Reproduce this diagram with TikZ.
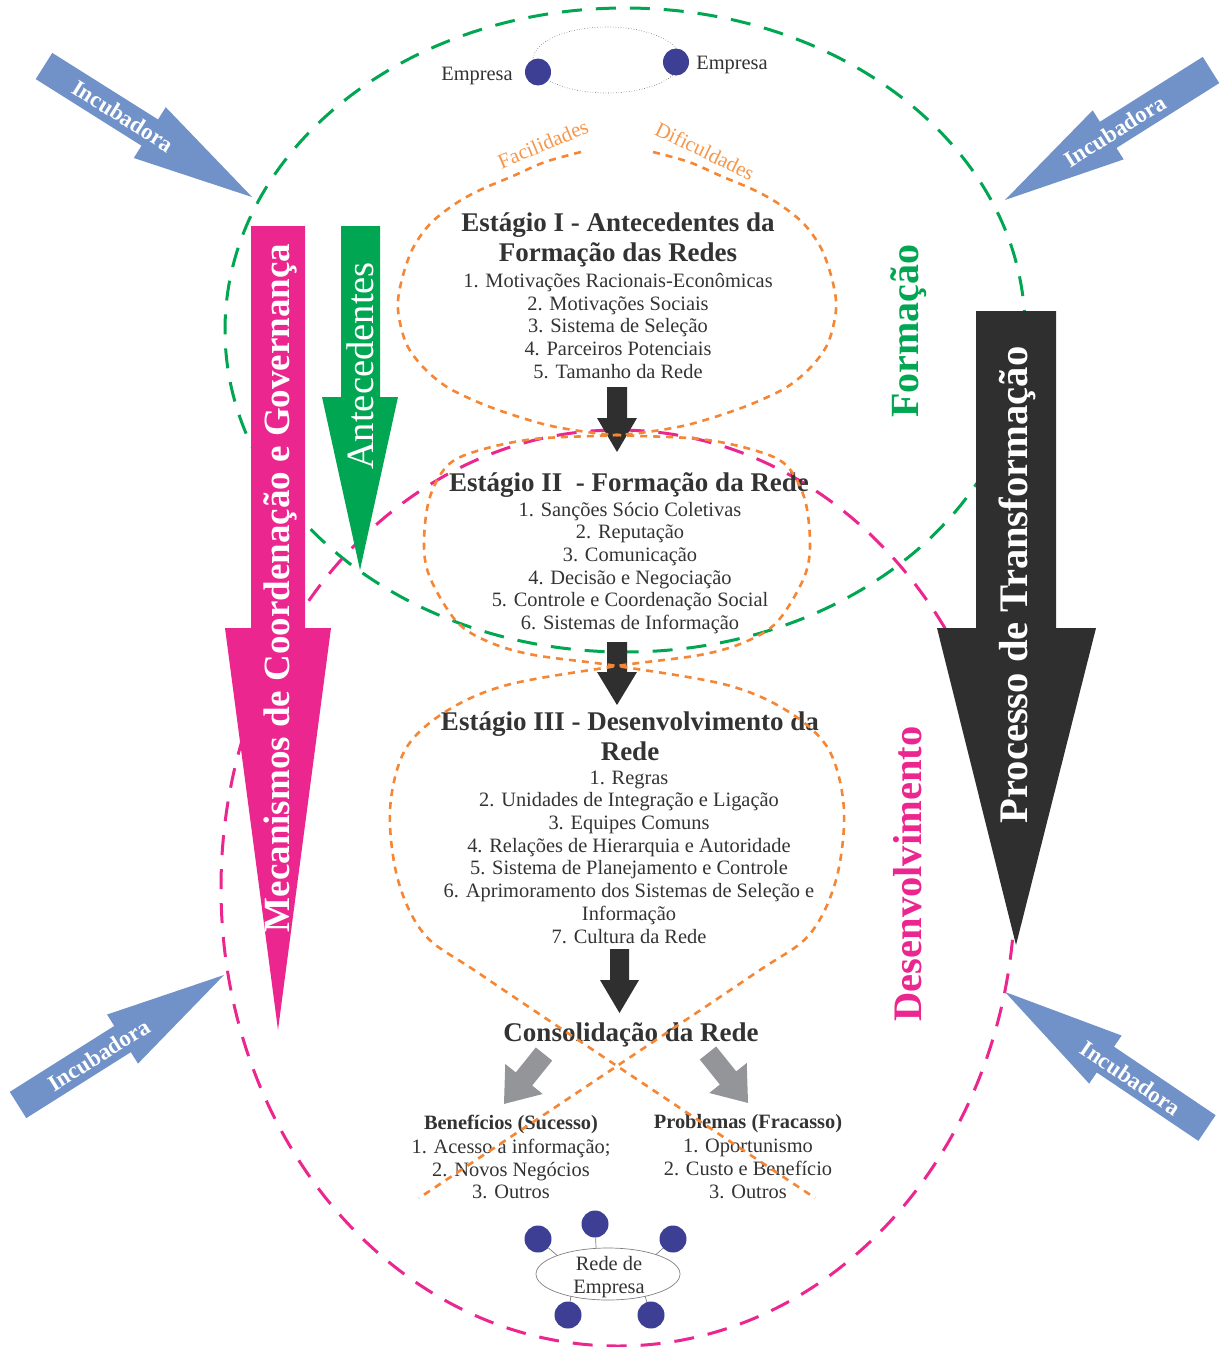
\documentclass[tikz,border=0pt]{standalone}
\usepackage{fontspec}
\setmainfont{Liberation Serif}
\usetikzlibrary{shapes.geometric}
\definecolor{grn}{HTML}{00A651}
\definecolor{mag}{HTML}{EC268F}
\definecolor{org}{HTML}{F58634}
\definecolor{orgtxt}{HTML}{F7964A}
\definecolor{txt}{HTML}{333333}
\definecolor{dark}{HTML}{2F2F2F}
\definecolor{gry}{HTML}{939598}
\definecolor{blu}{HTML}{7092C9}
\definecolor{navy}{HTML}{3C3F94}
\newcommand\bodyfs{\fontsize{20.4}{22.7}\selectfont}
\newcommand\titlefs{\fontsize{27}{30}\selectfont}
\newcommand\blockarr[8]{\begin{scope}[shift={(#1,#2)},rotate=#3]
  \fill[#8] (0,{-#5/2}) -- ({#4-#7},{-#5/2}) -- ({#4-#7},{-#6/2}) -- (#4,0) -- ({#4-#7},{#6/2}) -- ({#4-#7},{#5/2}) -- (0,{#5/2}) -- cycle;
\end{scope}}
\begin{document}
\begin{tikzpicture}[x=1pt,y=-1pt,
  every node/.style={inner sep=0pt, outer sep=0pt},
  body/.style={font=\bodyfs, text=txt, align=center},
  ttl/.style={font=\titlefs\bfseries, text=txt, align=center},
  greendash/.style={draw=grn, line width=3pt, dash pattern=on 20pt off 14pt},
  magdash/.style={draw=mag, line width=3pt, dash pattern=on 20pt off 14pt},
  orgdash/.style={draw=org, line width=2.6pt, dash pattern=on 7pt off 6pt},
  dot/.style={ellipse, fill=navy, minimum width=26pt, minimum height=27pt},
  incub/.style={font=\fontsize{23}{26}\selectfont\bfseries, text=white},
  vlab/.style={rotate=90, text=white},
  orglab/.style={font=\fontsize{21}{24}\selectfont, text=orgtxt},
  thinline/.style={draw=gray, line width=0.7pt}]
\useasboundingbox (0,0) rectangle (1219,1347);

% dashed ellipses
\draw[greendash] (625,330) ellipse [x radius=400pt, y radius=322pt];
\draw[magdash] (618,888) ellipse [x radius=397pt, y radius=458pt];

% incubadora arrows
\blockarr{44}{66}{-32.2}{246}{31}{60}{121}{blu}
\blockarr{1211}{70}{-147.75}{243.6}{31}{58}{122}{blu}
\blockarr{18}{1105}{32.25}{243.6}{31}{58}{120}{blu}
\blockarr{1207}{1128}{146.04}{243.5}{31}{58}{121}{blu}
\node[incub, rotate=-32] (i1) at (123,116) {Incubadora};
\node[incub, rotate=32] (i2) at (1115,131) {Incubadora};
\node[incub, rotate=32] (i3) at (99,1055) {Incubadora};
\node[incub, rotate=-34] (i4) at (1131,1078) {Incubadora};

% big arrows
\fill[mag] (251,226) -- (305,226) -- (305,628) -- (331,628) -- (278,1030) -- (225,628) -- (251,628) -- cycle;
\fill[grn] (341,226) -- (380,226) -- (380,397) -- (398,397) -- (360,570) -- (322,397) -- (341,397) -- cycle;
\fill[dark] (976,311) -- (1056,311) -- (1056,628) -- (1096,628) -- (1016,945) -- (937,628) -- (976,628) -- cycle;
\node[vlab, font=\fontsize{37}{40}\selectfont\bfseries] (mec) at (280,588) {Mecanismos de Coordenação e Governança};
\node[vlab, font=\fontsize{38.6}{40}\selectfont] (ant) at (360,366) {Antecedentes};
\node[vlab, font=\fontsize{40.6}{44}\selectfont\bfseries] (proc) at (1017,585) {Processo de Transformação};

\node[rotate=90, font=\fontsize{40}{44}\selectfont\bfseries, text=grn] (form) at (909,331) {Formação};
\node[rotate=90, font=\fontsize{40.5}{44}\selectfont\bfseries, text=mag] (desen) at (908,874) {Desenvolvimento};

% top companies
\draw[gray!80!black, line width=0.6pt, dotted] (607,60) ellipse [x radius=74pt, y radius=33pt];
\node[dot] (d1) at (538,72) {};
\node[dot] (d2) at (676,62) {};
\node[body] (emp1) at (477,76) {Empresa};
\node[body] (emp2) at (732,65) {Empresa};

% stage texts
\node[ttl] (s1t) at (618,240) {Estágio I - Antecedentes da\\Formação das Redes};
\node[body] (s1l) at (618,326) {1. Motivações Racionais-Econômicas\\2. Motivações Sociais\\3. Sistema de Seleção\\4. Parceiros Potenciais\\5. Tamanho da Rede};
\node[ttl] (s2t) at (629,485) {Estágio II\ \ - Formação da Rede};
\node[body] (s2l) at (630,568) {1. Sanções Sócio Coletivas\\2. Reputação\\3. Comunicação\\4. Decisão e Negociação\\5. Controle e Coordenação Social\\6. Sistemas de Informação};
\node[ttl] (s3t) at (630,736) {Estágio III - Desenvolvimento da\\Rede};
\node[body] (s3l) at (629,857) {1. Regras\\2. Unidades de Integração e Ligação\\3. Equipes Comuns\\4. Relações de Hierarquia e Autoridade\\5. Sistema de Planejamento e Controle\\6. Aprimoramento dos Sistemas de Seleção e\\Informação\\7. Cultura da Rede};
\node[ttl] (cons) at (631,1035) {Consolidação da Rede};
\node[body, font=\bodyfs\bfseries] (bent) at (511,1124) {Benefícios (Sucesso)};
\node[body] (benl) at (511,1169) {1. Acesso a informação;\\2. Novos Negócios\\3. Outros};
\node[body, font=\bodyfs\bfseries] (probt) at (748,1124) {Problemas (Fracasso)};
\node[body] (probl) at (748,1169) {1. Oportunismo\\2. Custo e Benefício\\3. Outros};

% small dark arrows
\fill[dark] (607,387) -- (627,387) -- (627,418) -- (637,418) -- (617,452) -- (597,418) -- (607,418) -- cycle;
\fill[dark] (607,642) -- (627,642) -- (627,672) -- (637,672) -- (617,705) -- (597,672) -- (607,672) -- cycle;
\fill[dark] (610,949) -- (629,949) -- (629,980) -- (639,980) -- (619.5,1013) -- (600,980) -- (610,980) -- cycle;

% gray arrows
\blockarr{544}{1054}{-128.7}{64}{21}{48}{32}{gry}
\blockarr{708}{1053}{-51.3}{64}{21}{48}{32}{gry}

% orange chain curves
\draw[orgdash] plot[smooth, tension=0.55] coordinates {(581,152) (545,162) (513,176) (480,190) (455,204) (430,224) (412,250) (401,283) (398,310) (406,343) (423,367) (447,387) (480,403) (513,415) (547,425) (580,431) (617,435) (700,439) (757,451) (787,466) (805,500) (810,547) (803,580) (777,622) (745,642) (700,655) (617,666) (507,685) (445,712) (405,750) (390,810) (398,880) (425,935) (480,974) (617,1066) (815,1198)};
\draw[orgdash] plot[smooth, tension=0.55] coordinates {(653,152) (689,162) (721,176) (754,190) (779,204) (804,224) (822,250) (833,283) (836,310) (828,343) (811,367) (787,387) (754,403) (721,415) (687,425) (654,431) (617,435) (534,439) (477,451) (447,466) (429,500) (424,547) (431,580) (457,622) (489,642) (534,655) (617,666) (727,685) (789,712) (829,750) (844,810) (836,880) (809,935) (754,974) (617,1066) (419,1198)};
\node[orglab, rotate=22.6] (fac) at (543,144) {Facilidades};
\node[orglab, rotate=-26] (dif) at (705,151) {Dificuldades};

% network of companies
\node[draw=gray, line width=0.7pt, ellipse, minimum width=144pt, minimum height=52pt] (rede) at (608,1274) {};
\node[body] (redet) at (609,1277) {Rede de\\Empresa};
\node[dot, minimum width=27pt] (r1) at (538,1239) {};
\node[dot, minimum width=27pt] (r2) at (595,1224) {};
\node[dot, minimum width=27pt] (r3) at (673,1239) {};
\node[dot, minimum width=27pt] (r4) at (568,1315) {};
\node[dot, minimum width=27pt] (r5) at (651,1315) {};
\draw[thinline] (r1) -- (rede.160);
\draw[thinline] (r2) -- (rede.115);
\draw[thinline] (r3) -- (rede.22);
\draw[thinline] (r4) -- (rede.-149);
\draw[thinline] (r5) -- (rede.-31);
\end{tikzpicture}
\end{document}
